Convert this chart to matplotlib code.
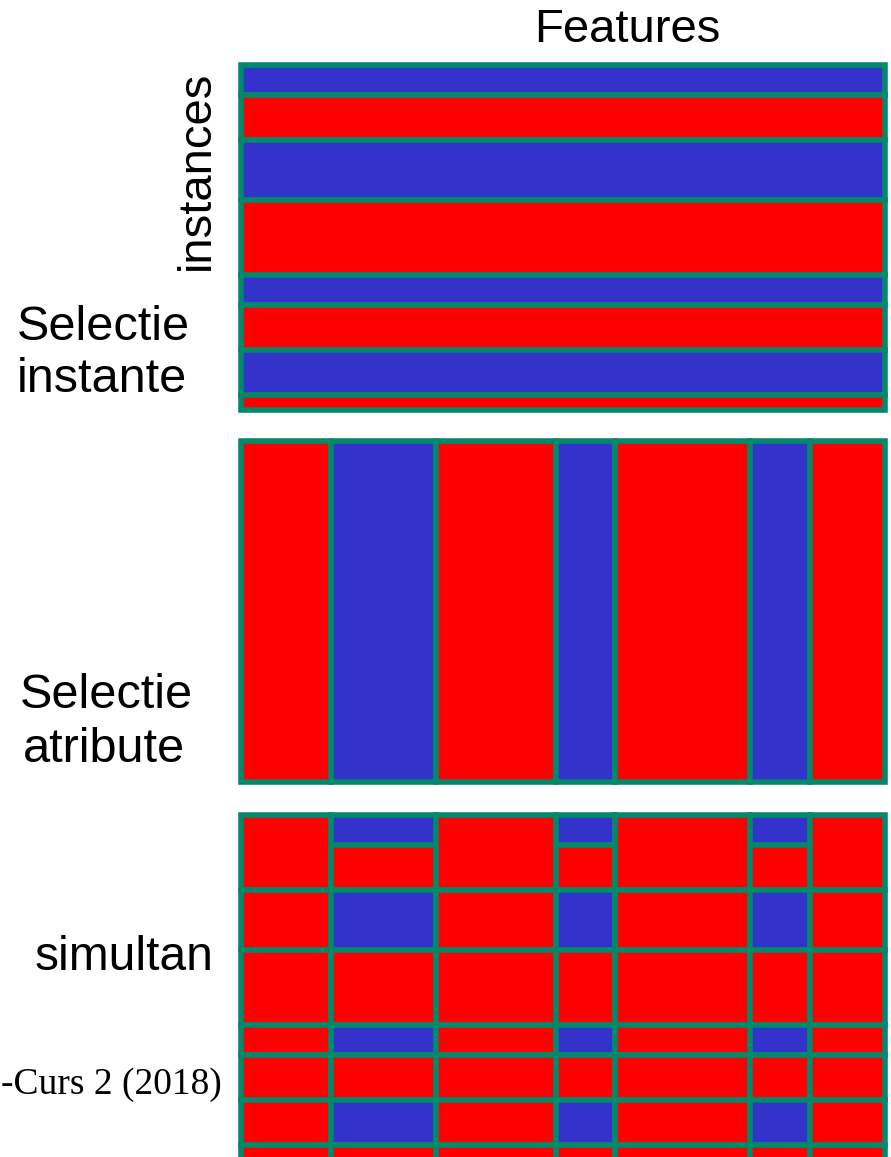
import matplotlib
matplotlib.use("Agg")
import matplotlib.pyplot as plt
from matplotlib.patches import Rectangle

# ---- data ----
row_units = [2, 3, 4, 5, 2, 3, 3, 1]          # instance blocks (relative heights)
row_kind = ["b", "r", "b", "r", "b", "r", "b", "r"]
col_units = [6, 7, 8, 4, 9, 4, 5]             # feature blocks (relative widths)
col_kind = ["r", "b", "r", "b", "r", "b", "r"]
labels = {"top": ["Selectie", "instante"], "mid": ["Selectie", "atribute"], "bot": ["simultan"]}
title_x = "Features"
title_y = "instances"
credit = "-Curs 2 (2018)"

# ---- style ----
RED = "#FF0000"
BLUE = "#3333CC"
GREEN = "#00896B"
LW = 4.0
col = {"r": RED, "b": BLUE}

W, H = 891, 1157
fig = plt.figure(figsize=(W / 100, H / 100), dpi=100)
ax = fig.add_axes([0, 0, 1, 1])
ax.set_xlim(0, W)
ax.set_ylim(H, 0)
ax.axis("off")

X0, X1 = 241, 885
unit_x = (X1 - X0) / sum(col_units)
unit_y = 15.0

def rect(x, y, w, h, fc):
    ax.add_patch(Rectangle((x, y), w, h, facecolor=fc, edgecolor=GREEN, lw=LW, joinstyle="miter"))

# top panel: instance selection (horizontal bands)
y = 65
for u, k in zip(row_units, row_kind):
    rect(X0, y, X1 - X0, u * unit_y, col[k])
    y += u * unit_y

# middle panel: feature selection (vertical bands)
MY0, MY1 = 441, 782
x = X0
for u, k in zip(col_units, col_kind):
    rect(x, MY0, u * unit_x, MY1 - MY0, col[k])
    x += u * unit_x

# bottom panel: both
BY0 = 815
x = X0
for cu, ck in zip(col_units, col_kind):
    w = cu * unit_x
    y = BY0
    i = 0
    while i < len(row_units):
        h = row_units[i] * unit_y
        if ck == "b":
            fc = col[row_kind[i]]
            step = 1
        else:
            fc = RED
            # first two blocks of red columns are drawn as one cell
            if i == 0:
                h += row_units[1] * unit_y
                step = 2
            else:
                step = 1
        rect(x, y, w, h, fc)
        y += h
        i += step
    x += w

FONT = "Liberation Sans"
ax.text(627, 30, title_x, fontsize=34, family=FONT, ha="center", va="center")
ax.text(197, 170, title_y, fontsize=34, family=FONT, ha="center", va="center", rotation=90)
ax.text(103, 328, labels["top"][0], fontsize=35, family=FONT, ha="center", va="center")
ax.text(102, 380, labels["top"][1], fontsize=35, family=FONT, ha="center", va="center")
ax.text(106, 695, labels["mid"][0], fontsize=35, family=FONT, ha="center", va="center")
ax.text(104, 750, labels["mid"][1], fontsize=35, family=FONT, ha="center", va="center")
ax.text(124, 957, labels["bot"][0], fontsize=34.5, family=FONT, ha="center", va="center")
ax.text(222, 1085, credit, fontsize=27, family="Liberation Serif", ha="right", va="center")

fig.savefig("out.png", dpi=100)
